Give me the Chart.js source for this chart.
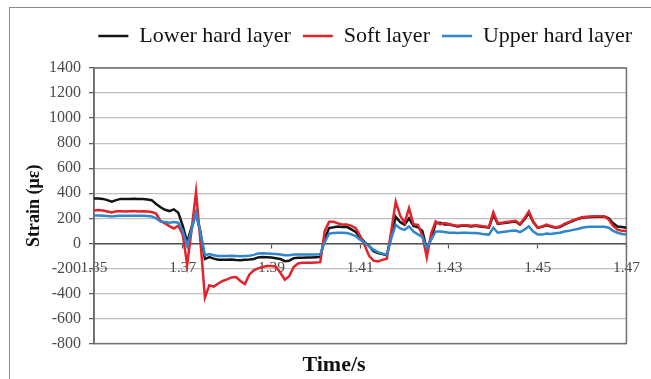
<!DOCTYPE html>
<html>
<head>
<meta charset="utf-8">
<script src="https://cdn.jsdelivr.net/npm/chart.js@4.4.1/dist/chart.umd.min.js"></script>
<style>
  html, body { margin: 0; padding: 0; background: #ffffff; }
  #wrap { position: relative; width: 651px; height: 379px; overflow: hidden; }
  #frame { position: absolute; left: 9px; top: 7px; width: 660px; height: 400px;
           border-top: 1.5px solid #8a8a8a; border-left: 1.5px solid #8a8a8a; }
  #chart { position: absolute; left: 0; top: 0; }
</style>
</head>
<body>
<div id="wrap">
  <div id="frame"></div>
  <canvas id="chart" width="651" height="379"></canvas>
</div>
<script>
// Sampling instants (s)
const timeS = [
  1.350, 1.351, 1.352, 1.353, 1.354, 1.355, 1.356, 1.357, 1.358, 1.359,
  1.360, 1.361, 1.362, 1.363, 1.364, 1.365, 1.366, 1.367, 1.368, 1.369,
  1.370, 1.371, 1.372, 1.373, 1.374, 1.375, 1.376, 1.377, 1.378, 1.379,
  1.380, 1.381, 1.382, 1.383, 1.384, 1.385, 1.386, 1.387, 1.388, 1.389,
  1.390, 1.391, 1.392, 1.393, 1.394, 1.395, 1.396, 1.397, 1.398, 1.399,
  1.400, 1.401, 1.402, 1.403, 1.404, 1.405, 1.406, 1.407, 1.408, 1.409,
  1.410, 1.411, 1.412, 1.413, 1.414, 1.415, 1.416, 1.417, 1.418, 1.419,
  1.420, 1.421, 1.422, 1.423, 1.424, 1.425, 1.426, 1.427, 1.428, 1.429,
  1.430, 1.431, 1.432, 1.433, 1.434, 1.435, 1.436, 1.437, 1.438, 1.439,
  1.440, 1.441, 1.442, 1.443, 1.444, 1.445, 1.446, 1.447, 1.448, 1.449,
  1.450, 1.451, 1.452, 1.453, 1.454, 1.455, 1.456, 1.457, 1.458, 1.459,
  1.460, 1.461, 1.462, 1.463, 1.464, 1.465, 1.466, 1.467, 1.468, 1.469,
  1.470
];

// Strain (με) in the lower hard layer
const lowerHard = [
  358, 358, 355, 345, 332, 345, 355, 355, 355, 356,
  355, 355, 350, 345, 315, 288, 268, 258, 272, 245,
  140, 10, 130, 242, 90, -125, -110, -122, -130, -130,
  -130, -128, -132, -135, -130, -128, -125, -112, -108, -110,
  -112, -118, -125, -142, -138, -118, -115, -114, -112, -112,
  -110, -108, 40, 122, 128, 135, 130, 132, 112, 92,
  48, 10, -20, -62, -78, -85, -95, 60, 212, 170,
  148, 200, 140, 128, 100, -45, 40, 160, 165, 150,
  150, 142, 135, 140, 140, 135, 140, 135, 130, 125,
  228, 155, 160, 165, 170, 175, 150, 190, 242, 170,
  125, 132, 145, 135, 125, 130, 150, 165, 180, 195,
  205, 208, 210, 212, 212, 215, 200, 160, 135, 130,
  125
];

// Strain (με) in the soft layer
const softLayer = [
  262, 266, 262, 255, 246, 256, 256, 255, 257, 258,
  255, 257, 255, 250, 238, 178, 160, 138, 118, 142,
  70, -170, 110, 412, 10, -432, -335, -345, -320, -300,
  -288, -272, -268, -300, -325, -250, -215, -200, -188, -180,
  -180, -185, -235, -290, -262, -188, -160, -155, -155, -155,
  -152, -150, 100, 172, 172, 160, 150, 150, 140, 122,
  58, -15, -100, -138, -145, -132, -122, 100, 332, 222,
  165, 280, 152, 148, 62, -112, 80, 175, 152, 162,
  155, 145, 140, 145, 145, 140, 145, 140, 135, 130,
  248, 160, 165, 170, 175, 180, 155, 200, 255, 175,
  125, 135, 150, 138, 128, 135, 155, 170, 185, 198,
  208, 212, 214, 216, 216, 215, 190, 140, 110, 100,
  98
];

// Strain (με) in the upper hard layer
const upperHard = [
  222, 222, 220, 218, 214, 218, 220, 220, 220, 220,
  220, 220, 218, 215, 200, 175, 170, 165, 170, 165,
  100, -20, 110, 245, 80, -95, -85, -95, -100, -100,
  -100, -98, -100, -102, -100, -98, -92, -80, -78, -80,
  -82, -85, -88, -95, -95, -88, -88, -88, -88, -88,
  -88, -86, 10, 78, 82, 85, 85, 82, 72, 58,
  30, 5, -22, -50, -70, -82, -90, 40, 150, 120,
  108, 135, 95, 72, 52, -35, 30, 95, 95, 90,
  85, 85, 82, 85, 85, 82, 82, 78, 72, 70,
  125, 85, 90, 95, 100, 103, 90, 110, 135, 95,
  70, 70, 78, 75, 80, 85, 95, 100, 108, 115,
  125, 130, 132, 132, 133, 132, 125, 100, 85, 75,
  70
];

// Axis ranges and tick spacing
const xTicks = [1.35, 1.37, 1.39, 1.41, 1.43, 1.45, 1.47];
const yMin = -800, yMax = 1400, yStep = 200;

const serif = "'Liberation Serif', 'Times New Roman', serif";
const toPoints = (arr) => arr.map((v, i) => ({ x: timeS[i], y: v }));

// Dark border around the plotting area
const plotFrame = {
  id: 'plotFrame',
  beforeDatasetsDraw(chart) {
    const { ctx, chartArea: a } = chart;
    ctx.save();
    ctx.strokeStyle = '#707070';
    ctx.lineWidth = 1.5;
    ctx.strokeRect(a.left, a.top, a.right - a.left, a.bottom - a.top);
    ctx.restore();
  }
};

new Chart(document.getElementById('chart'), {
  type: 'line',
  data: {
    datasets: [
      { label: 'Lower hard layer', data: toPoints(lowerHard), borderColor: '#141414', backgroundColor: '#141414', order: 3 },
      { label: 'Soft layer', data: toPoints(softLayer), borderColor: '#e2232a', backgroundColor: '#e2232a', order: 2 },
      { label: 'Upper hard layer', data: toPoints(upperHard), borderColor: '#2f86cc', backgroundColor: '#2f86cc', order: 1 }
    ]
  },
  options: {
    responsive: false,
    animation: false,
    devicePixelRatio: 1,
    layout: { padding: { left: 24, right: 7, top: 13, bottom: 0 } },
    elements: {
      line: { borderWidth: 2.5, tension: 0 },
      point: { radius: 0 }
    },
    plugins: {
      legend: {
        position: 'top',
        align: 'end',
        labels: {
          boxWidth: 30,
          boxHeight: 0,
          padding: 12,
          color: '#111',
          font: { family: serif, size: 22 },
          sort: (a, b) => a.datasetIndex - b.datasetIndex
        }
      },
      subtitle: {
        display: true,
        text: '',
        weight: 500,
        padding: 0,
        font: { size: 11, lineHeight: 1 }
      },
      title: {
        display: true,
        position: 'bottom',
        text: 'Time/s',
        color: '#111',
        font: { family: serif, size: 22, weight: 'bold', lineHeight: 1.2 },
        padding: { top: 9, bottom: 0 }
      },
      tooltip: { enabled: false }
    },
    scales: {
      x: {
        type: 'linear',
        position: { y: 0 },
        min: xTicks[0],
        max: xTicks[xTicks.length - 1],
        afterBuildTicks: (s) => { s.ticks = xTicks.map(v => ({ value: v })); },
        ticks: {
          callback: (v) => Number(v).toFixed(2),
          color: '#4a4a4a',
          font: { family: serif, size: 15.5 },
          padding: 11,
          maxRotation: 0,
          autoSkip: false
        },
        grid: { drawOnChartArea: false, drawTicks: true, tickLength: 4, tickColor: '#555', tickWidth: 1.2 },
        border: { display: true, color: '#505050', width: 1.5 }
      },
      y: {
        min: yMin,
        max: yMax,
        ticks: {
          stepSize: yStep,
          callback: (v) => String(v),
          color: '#4a4a4a',
          font: { family: serif, size: 16 },
          padding: 8
        },
        grid: { color: '#c0c0c0', lineWidth: 1.3, drawTicks: true, tickLength: 5, tickColor: '#555', tickWidth: 1.2 },
        border: { display: true, color: '#505050', width: 1.5 },
        title: {
          display: true,
          text: 'Strain (με)',
          color: '#111',
          font: { family: serif, size: 18, weight: 'bold', lineHeight: 1.2 },
          padding: { top: 0, bottom: 4 }
        },
        afterFit: (s) => { s.width = 70; }
      },
      yR: {
        type: 'linear',
        position: 'right',
        display: true,
        ticks: { display: false },
        grid: { display: false, drawTicks: false },
        border: { display: false },
        afterFit: (s) => { s.width = 11; }
      }
    }
  },
  plugins: [plotFrame]
});
</script>
</body>
</html>
